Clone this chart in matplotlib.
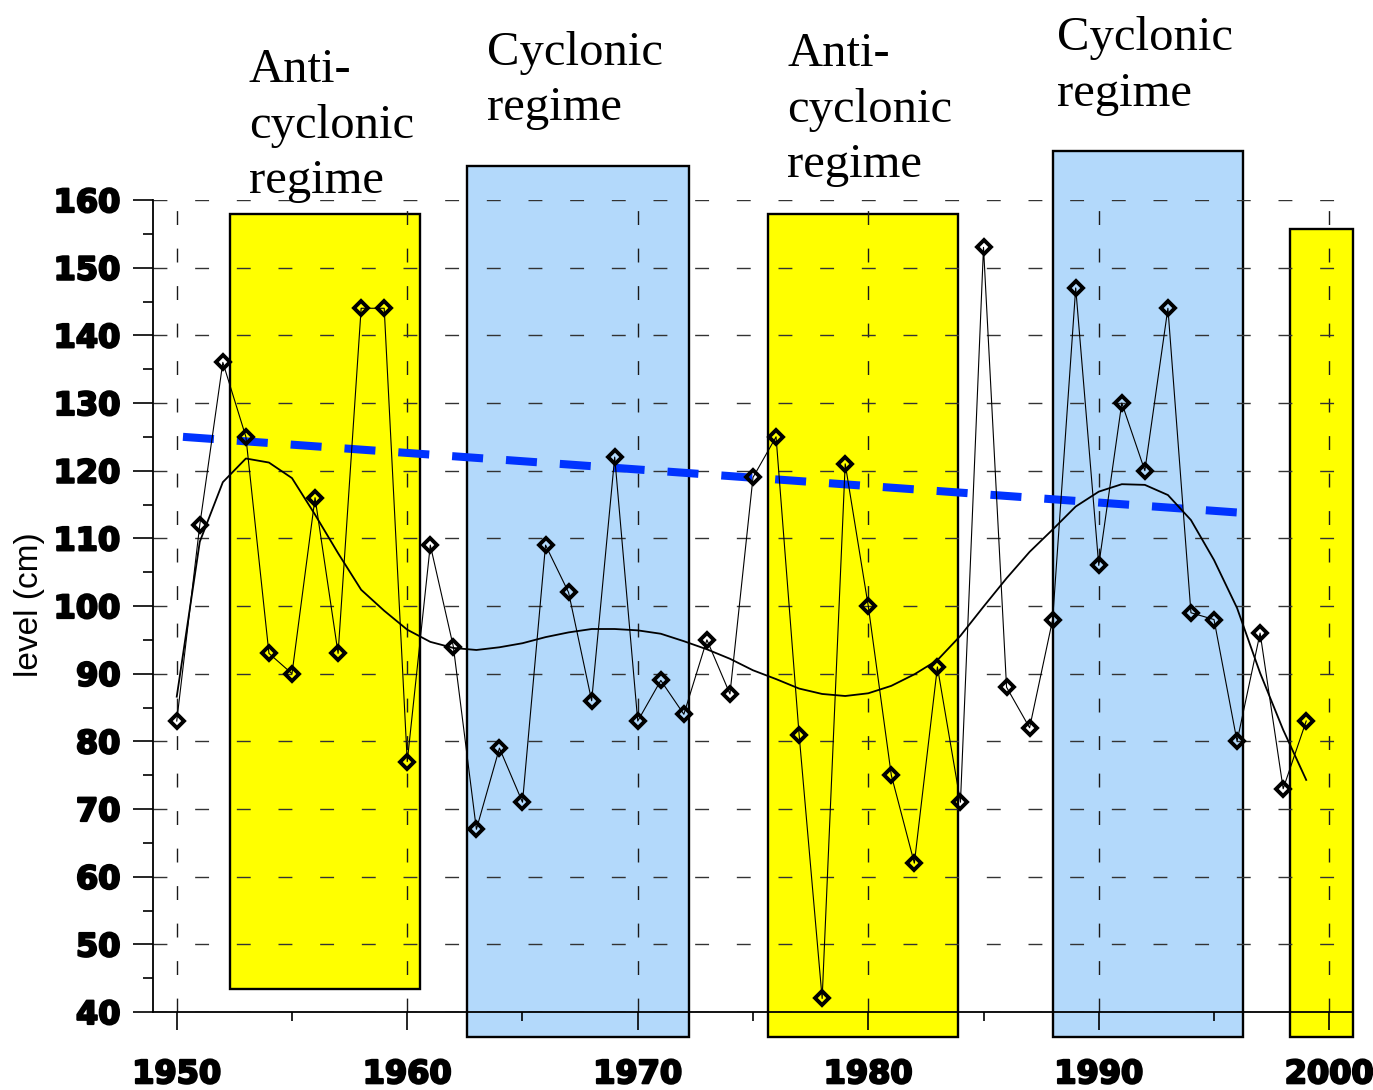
import numpy as np
import matplotlib
matplotlib.use('Agg')
import matplotlib.pyplot as plt
import matplotlib.patheffects as pe
from matplotlib.patches import Rectangle
from matplotlib.ticker import MultipleLocator

# yearly levels
years = list(range(1950, 2000))
level = [83, 112, 136, 125, 93, 90, 116, 93, 144, 144,
         77, 109, 94, 67, 79, 71, 109, 102, 86, 122,
         83, 89, 84, 95, 87, 119, 125, 81, 42, 121,
         100, 75, 62, 91, 71, 153, 88, 82, 98, 147,
         106, 130, 120, 144, 99, 98, 80, 96, 73, 83]

# smoothed curve, read at each year
smooth = [86.6, 109.5, 118.3, 121.8, 121.2, 118.9, 113.5, 107.8, 102.4, 99.3,
          96.5, 94.7, 93.8, 93.5, 93.9, 94.5, 95.4, 96.1, 96.6, 96.6,
          96.4, 95.9, 94.8, 93.6, 92.2, 90.5, 89.2, 87.8, 87.0, 86.7,
          87.1, 88.2, 89.9, 92.0, 95.6, 99.9, 104.1, 108.0, 111.3, 114.7,
          116.9, 118.0, 117.9, 116.4, 112.7, 106.8, 99.7, 90.1, 81.7, 74.3]

# linear trend end points
trend_x = [1950.27, 1996.9]
trend_y = [125.0, 113.6]

# regime periods
regime_start = [1952.31, 1962.61, 1975.65, 1988.0, 1998.3]
regime_end = [1960.56, 1972.23, 1983.9, 1996.25, 2001.05]
regime_kind = ['anti', 'cyc', 'anti', 'cyc', 'anti']
regime_names = ['Anti-\ncyclonic\nregime', 'Cyclonic\nregime',
                'Anti-\ncyclonic\nregime', 'Cyclonic\nregime']

W, H = 1373, 1090
fig = plt.figure(figsize=(W / 100, H / 100), dpi=100)
ax = fig.add_axes([153 / W, 1 - 1012 / H, 1200 / W, 812 / H])
ax.set_xlim(1948.97, 2001.03)
ax.set_ylim(40, 160)

# boxes stick out of the axes
box_y = {'anti': [(43.35, 158.0), (36.3, 157.9), (36.3, 155.7)],
         'cyc': [(36.3, 165.0), (36.3, 167.3)]}
colors = {'anti': '#ffff00', 'cyc': '#b3d9fb'}
count = {'anti': 0, 'cyc': 0}
for x0, x1, k in zip(regime_start, regime_end, regime_kind):
    y0, y1 = box_y[k][count[k]]
    count[k] += 1
    ax.add_patch(Rectangle((x0, y0), x1 - x0, y1 - y0, facecolor=colors[k],
                           edgecolor='black', lw=1.7, clip_on=False, zorder=0.2))

ax.set_axisbelow(True)
ax.xaxis.set_major_locator(MultipleLocator(10))
ax.xaxis.set_minor_locator(MultipleLocator(5))
ax.yaxis.set_major_locator(MultipleLocator(10))
ax.yaxis.set_minor_locator(MultipleLocator(5))
ax.grid(axis='y', which='major', color='0.2', lw=1.0, dashes=(10, 20))
ax.grid(axis='x', which='major', color='0.1', lw=1.0, dashes=(10, 17))

for s in ['top', 'right']:
    ax.spines[s].set_visible(False)
for s in ['left', 'bottom']:
    ax.spines[s].set_linewidth(1.3)

ax.tick_params(axis='y', which='major', direction='out', length=14.4, width=1.2, pad=9)
ax.tick_params(axis='y', which='minor', direction='out', length=7.2, width=1.2)
ax.tick_params(axis='x', which='major', direction='out', length=13, width=1.2, pad=21)
ax.tick_params(axis='x', which='minor', direction='out', length=6.5, width=1.2)
heavy = [pe.withStroke(linewidth=1.6, foreground='black')]
for lab in ax.get_xticklabels() + ax.get_yticklabels():
    lab.set_fontfamily('DejaVu Sans')
    lab.set_fontweight('bold')
    lab.set_fontsize(23)
    lab.set_path_effects(heavy)

ax.plot(trend_x, trend_y, color='#0033ff', lw=5.8, dashes=(3.85, 2.85), zorder=3)
ax.plot(years, smooth, color='black', lw=1.3, zorder=4)
ax.plot(years, level, color='black', lw=0.8, marker='D', ms=7, mew=2.8,
        mfc='none', mec='black', zorder=5)

ax.set_ylabel('level (cm)', fontsize=24, family='Liberation Sans')
ax.yaxis.set_label_coords((45 - 153) / 1200, 0.502)

# regime captions, baselines of the first line in pixels
name_x = [249, 487, 787, 1057]
name_base = [82, 65, 66, 50]
for name, x, yb in zip(regime_names, name_x, name_base):
    for i, line in enumerate(name.split('\n')):
        fig.text(x / W, 1 - (yb + 55.5 * i) / H, line, family='Liberation Serif',
                 fontsize=35, ha='left', va='baseline')

fig.savefig('out.png', dpi=100)
